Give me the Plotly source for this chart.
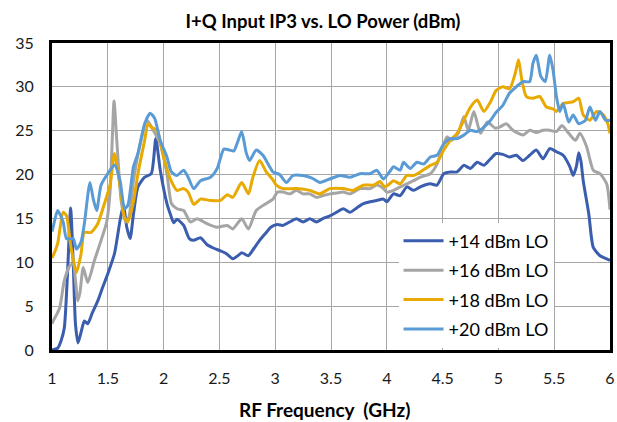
import plotly.graph_objects as go

x14 = [1.00,1.05,1.08,1.11,1.14,1.167,1.19,1.21,1.233,1.26,1.29,1.32,1.36,1.41,1.45,1.50,1.56,1.61,1.64,1.67,1.70,1.73,1.77,1.83,1.89,1.93,1.97,2.03,2.06,2.09,2.12,2.18,2.23,2.27,2.33,2.39,2.45,2.51,2.56,2.62,2.68,2.70,2.76,2.81,2.86,2.92,2.96,3.02,3.07,3.13,3.19,3.25,3.31,3.37,3.43,3.49,3.55,3.61,3.67,3.73,3.79,3.85,3.91,3.97,4.00,4.06,4.12,4.18,4.24,4.30,4.39,4.45,4.51,4.57,4.63,4.69,4.75,4.81,4.87,4.93,4.98,5.04,5.10,5.16,5.22,5.28,5.34,5.40,5.46,5.52,5.58,5.64,5.67,5.70,5.72,5.74,5.76,5.81,5.85,5.91,5.97,6.00]
y14 = [0.0,0.2,1.0,2.5,9.0,16.2,10.0,3.0,0.8,2.0,3.3,3.0,4.2,5.6,7.0,8.7,11.0,14.8,16.5,14.0,12.7,15.5,18.6,19.7,20.1,24.1,20.5,16.7,15.5,14.5,14.9,14.2,12.7,12.5,12.8,12.0,11.6,11.3,11.0,10.4,10.9,11.1,10.75,11.6,12.5,13.4,14.0,14.3,14.2,14.6,14.95,14.6,14.95,14.6,15.0,15.3,15.7,16.1,15.7,16.2,16.7,16.9,17.05,17.2,16.9,17.8,17.6,18.6,18.2,18.6,18.95,18.8,20.1,20.3,20.3,21.05,20.7,21.4,21.05,21.8,22.4,22.3,22.0,22.2,21.6,22.2,22.8,21.8,22.96,22.6,22.2,20.9,19.9,21.0,22.5,21.5,19.3,15.5,11.7,10.75,10.4,10.2]

x16 = [1.00,1.01,1.04,1.07,1.11,1.16,1.19,1.21,1.23,1.25,1.28,1.32,1.38,1.44,1.49,1.52,1.54,1.556,1.58,1.62,1.66,1.69,1.73,1.79,1.85,1.91,1.97,2.03,2.07,2.12,2.18,2.24,2.30,2.39,2.48,2.57,2.62,2.70,2.76,2.83,2.92,2.98,3.02,3.07,3.13,3.19,3.25,3.31,3.37,3.43,3.49,3.55,3.61,3.67,3.76,3.85,3.91,3.97,4.00,4.06,4.12,4.18,4.24,4.30,4.39,4.45,4.51,4.54,4.58,4.64,4.69,4.73,4.78,4.84,4.90,4.97,5.01,5.07,5.13,5.22,5.28,5.34,5.40,5.46,5.52,5.57,5.63,5.69,5.73,5.79,5.85,5.91,5.97,6.00]
y16 = [3.0,3.3,4.0,4.85,7.9,9.6,9.8,8.0,5.6,6.5,9.4,7.7,10.2,12.5,14.6,18.0,24.0,28.4,24.0,17.0,14.6,15.2,19.3,23.5,26.2,25.0,23.5,20.1,16.7,16.1,15.9,14.6,14.95,14.4,14.0,14.2,13.8,14.95,13.8,15.9,16.7,17.2,18.0,18.0,17.8,18.2,17.8,17.8,17.4,17.6,17.8,17.9,18.0,17.8,18.4,18.4,18.8,18.4,18.0,18.2,18.6,18.95,19.3,19.7,20.1,21.2,23.5,24.3,23.9,24.7,26.6,25.05,27.2,24.7,26.0,25.3,25.4,25.8,25.05,24.5,25.05,24.8,25.05,25.05,24.9,25.6,24.7,23.9,24.7,23.2,20.5,20.1,18.95,16.0]

x18 = [1.00,1.01,1.05,1.10,1.13,1.17,1.22,1.26,1.29,1.35,1.41,1.47,1.52,1.56,1.61,1.65,1.68,1.73,1.77,1.83,1.86,1.89,1.94,2.00,2.06,2.12,2.18,2.22,2.27,2.33,2.42,2.51,2.57,2.62,2.70,2.76,2.80,2.86,2.92,2.98,3.01,3.07,3.19,3.31,3.40,3.49,3.61,3.70,3.79,3.88,3.94,3.98,4.03,4.06,4.12,4.18,4.24,4.30,4.39,4.45,4.51,4.57,4.63,4.69,4.75,4.81,4.87,4.93,4.98,5.04,5.10,5.15,5.18,5.21,5.25,5.31,5.37,5.43,5.49,5.52,5.58,5.67,5.72,5.76,5.82,5.88,5.94,5.98,6.00]
y18 = [10.5,10.75,12.1,15.7,15.3,11.7,8.85,10.95,13.4,13.4,14.4,16.7,18.8,22.4,18.6,15.1,14.6,16.9,20.1,23.9,25.8,25.4,25.05,22.0,19.5,18.2,18.4,18.0,16.6,17.2,17.05,17.05,17.7,17.4,19.1,17.8,19.7,21.6,20.3,19.4,18.8,18.4,18.4,18.2,17.8,18.4,18.4,18.2,18.8,18.8,19.2,18.6,19.0,19.3,18.95,19.9,19.9,20.3,21.05,21.4,22.8,23.9,24.7,26.2,27.7,28.5,27.2,28.3,29.6,30.0,29.8,31.5,33.1,30.8,28.9,28.7,28.9,27.7,27.5,27.2,28.1,28.3,28.7,26.8,26.2,27.2,26.8,25.8,24.7]

x20 = [1.00,1.01,1.05,1.10,1.13,1.19,1.22,1.26,1.29,1.34,1.37,1.40,1.44,1.50,1.56,1.61,1.65,1.68,1.73,1.77,1.83,1.88,1.92,1.97,2.03,2.07,2.12,2.18,2.22,2.27,2.33,2.42,2.48,2.54,2.59,2.63,2.66,2.70,2.74,2.77,2.83,2.89,2.95,2.98,3.04,3.10,3.16,3.25,3.33,3.40,3.49,3.58,3.67,3.76,3.85,3.91,3.97,4.03,4.06,4.12,4.15,4.21,4.27,4.33,4.39,4.45,4.51,4.57,4.63,4.69,4.75,4.81,4.87,4.93,4.98,5.04,5.10,5.16,5.22,5.28,5.31,5.34,5.38,5.42,5.46,5.49,5.52,5.55,5.58,5.63,5.67,5.72,5.78,5.82,5.87,5.91,5.96,6.00]
y20 = [13.5,14.0,15.9,14.6,12.7,12.7,11.5,12.3,14.4,19.1,17.2,15.9,18.8,20.1,21.1,19.3,16.1,16.5,20.9,22.4,25.8,27.0,26.4,23.9,22.0,20.3,19.9,20.5,19.7,18.4,19.3,19.7,20.7,22.9,22.8,22.7,23.6,24.9,22.5,21.6,22.8,22.2,20.9,20.3,20.0,19.1,19.9,19.9,19.6,19.1,19.5,19.9,19.7,20.1,20.1,20.5,19.5,20.4,20.9,20.5,21.4,20.7,21.4,21.2,22.0,22.2,23.5,24.1,24.1,24.5,25.05,24.9,25.4,26.2,27.1,27.9,29.3,30.0,30.6,30.6,32.7,33.6,31.2,30.6,33.6,31.9,28.9,27.2,28.1,26.0,26.8,25.8,26.2,27.7,26.2,27.2,26.2,26.2]

names = ["+14 dBm LO", "+16 dBm LO", "+18 dBm LO", "+20 dBm LO"]
colors = ["#3A5DAE", "#A5A5A5", "#E8A900", "#5B9BD5"]
xs = [x14, x16, x18, x20]
ys = [y14, y16, y18, y20]

xticks = [1, 1.5, 2, 2.5, 3, 3.5, 4, 4.5, 5, 5.5, 6]
xticklabels = ["1", "1.5", "2", "2.5", "3", "3.5", "4", "4.5", "5", "5.5", "6"]
yticks = [0, 5, 10, 15, 20, 25, 30, 35]

FONT = "Lato, Open Sans, sans-serif"

fig = go.Figure()
for i in range(4):
    fig.add_trace(go.Scatter(
        x=xs[i], y=ys[i], mode="lines", name=names[i],
        legendgroup=str(i),
        line=dict(color=colors[i], width=3, shape="spline", smoothing=0.6),
    ))

fig.update_layout(
    width=617, height=422,
    margin=dict(l=52, r=7, t=43, b=72),
    paper_bgcolor="white", plot_bgcolor="white",
    font=dict(family=FONT, size=16, color="#1a1a1a"),
    title=dict(text="<b>I+Q Input IP3 vs. LO Power (dBm)</b>", x=0.5235, xanchor="center",
               yref="container", y=1 - 22 / 422, yanchor="middle",
               font=dict(size=18.5, color="#000000")),
    showlegend=True,
    legend=dict(x=0.621, y=0.415, xanchor="left", yanchor="top",
                bgcolor="white", borderwidth=0,
                font=dict(size=18, color="#000000"),
                itemwidth=40, tracegroupgap=3, traceorder="grouped"),
    annotations=[dict(text="<b>RF Frequency &nbsp;(GHz)</b>", xref="paper", yref="paper",
                      x=0.489, y=-0.195, xanchor="center", yanchor="middle", showarrow=False,
                      font=dict(size=19, color="#000000"))],
)
fig.update_xaxes(
    range=[1, 6], tickvals=xticks, ticktext=xticklabels,
    showgrid=True, gridcolor="#A6A6A6", gridwidth=1,
    showline=True, linecolor="black", linewidth=3, mirror=True,
    ticks="", ticklabelstandoff=12, zeroline=False, automargin=False,
    tickfont=dict(size=16, color="#1a1a1a"),
)
fig.update_yaxes(
    range=[0, 35], tickvals=yticks,
    showgrid=True, gridcolor="#A6A6A6", gridwidth=1,
    showline=True, linecolor="black", linewidth=3, mirror=True,
    ticks="", ticklabelstandoff=12, zeroline=False, automargin=False,
    tickfont=dict(size=16, color="#1a1a1a"),
)

fig.write_html("out.html", config={"displayModeBar": False},
               post_script="document.body.style.margin='0';document.body.style.overflow='hidden';")
